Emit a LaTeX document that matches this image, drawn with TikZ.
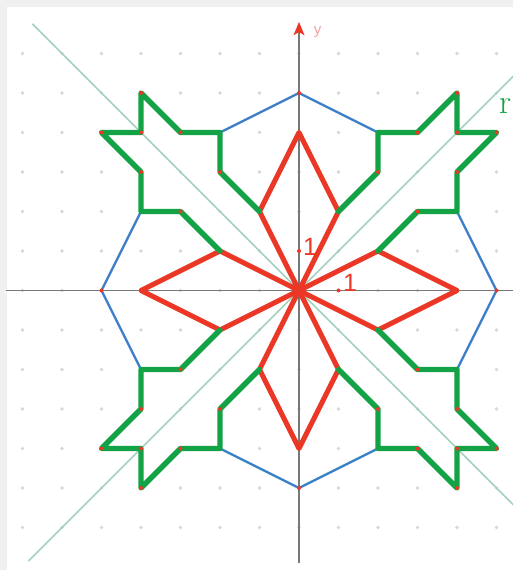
\documentclass[tikz,border=0pt]{standalone}
\usepackage{fontspec}
\newfontfamily\labfont{Liberation Sans}
\definecolor{gr}{RGB}{20,162,70}
\definecolor{rd}{RGB}{234,55,38}
\definecolor{bl}{RGB}{62,128,200}
\definecolor{dg}{RGB}{165,210,190}
\definecolor{ax}{RGB}{120,120,120}
\definecolor{framec}{RGB}{240,240,240}
\definecolor{gdot}{RGB}{215,215,215}
\definecolor{ylab}{RGB}{240,160,160}
\begin{document}
\begin{tikzpicture}[x=39.5pt,y=39.5pt,
  greenline/.style={gr, line width=5.4pt, line join=round, line cap=round},
  redline/.style={rd, line width=5pt, line join=round, line cap=round},
  blueline/.style={bl, line width=2.4pt, line join=round},
  diagline/.style={dg, line width=1.5pt},
  axisline/.style={ax, line width=1.6pt},
  latdot/.style={fill=gdot},
  ptdot/.style={fill=rd},
  numlab/.style={text=rd, font=\labfont\fontsize{25}{27}\selectfont, inner sep=0pt}]
\useasboundingbox (-7.570,-7.076) rectangle (5.418,7.354);
\fill[framec] (-7.570,-7.076) rectangle (5.418,7.354);
\fill[white] (-7.393,-7.076) rectangle (5.418,7.177);
% lattice dots
\foreach \i in {-7,...,5} \foreach \j in {-6,...,6} {\fill[latdot] (\i,\j) circle (1.8pt);}
% diagonal lines
\begin{scope}
\clip (-7.393,-7.076) rectangle (5.418,7.177);
\draw[diagline] (-6.75,6.75) -- (6,-6);
\draw[diagline] (-6.85,-6.85) -- (6,6);
\end{scope}
% axes
\draw[axisline] (-7.42,0) -- (5.418,0);
\draw[axisline] (0,-6.9) -- (0,6.6);
\fill[rd] (0,6.80) -- (0.14,6.46) -- (0,6.54) -- (-0.14,6.46) -- cycle;
\node[text=ylab, font=\labfont\fontsize{15}{17}\selectfont, inner sep=0pt] (ylabel) at (0.47,6.55) {y};
% blue hexagon parts
\draw[blueline] (-2,4) -- (0,5) -- (2,4);
\draw[blueline] (-2,-4) -- (0,-5) -- (2,-4);
\draw[blueline] (-4,2) -- (-5,0) -- (-4,-2);
\draw[blueline] (4,2) -- (5,0) -- (4,-2);
% red diamonds
\draw[redline] (0,0) -- (1,2) -- (0,4) -- (-1,2) -- cycle;
\draw[redline] (0,0) -- (1,-2) -- (0,-4) -- (-1,-2) -- cycle;
\draw[redline] (0,0) -- (2,1) -- (4,0) -- (2,-1) -- cycle;
\draw[redline] (0,0) -- (-2,1) -- (-4,0) -- (-2,-1) -- cycle;
% green pieces
\foreach \sx/\sy in {1/1,-1/1,1/-1,-1/-1} {
  \begin{scope}[xscale=\sx, yscale=\sy]
  \draw[greenline] (1,2) -- (2,3) -- (2,4) -- (3,4) -- (4,5) -- (4,4) -- (5,4) -- (4,3) -- (4,2) -- (3,2) -- (2,1);
  \foreach \p in {(2,3),(3,4),(4,5),(4,4),(5,4),(4,3),(3,2)} {\fill[ptdot] \p circle (2pt);}
  \end{scope}
}
\foreach \p in {(4,0),(5,0),(-4,0),(-5,0),(0,4),(0,-4),(0,5),(0,-5),(1,0),(0,1)} {\fill[ptdot] \p circle (2pt);}
% labels
\node[numlab] (one-y) at (0.28,1.1) {1};
\node[numlab] (one-x) at (1.29,0.18) {1};
\node[text=gr, font=\fontsize{34}{38}\selectfont, inner sep=0pt, anchor=base west] (rtext) at (5.06,4.49) {r};
\end{tikzpicture}
\end{document}
